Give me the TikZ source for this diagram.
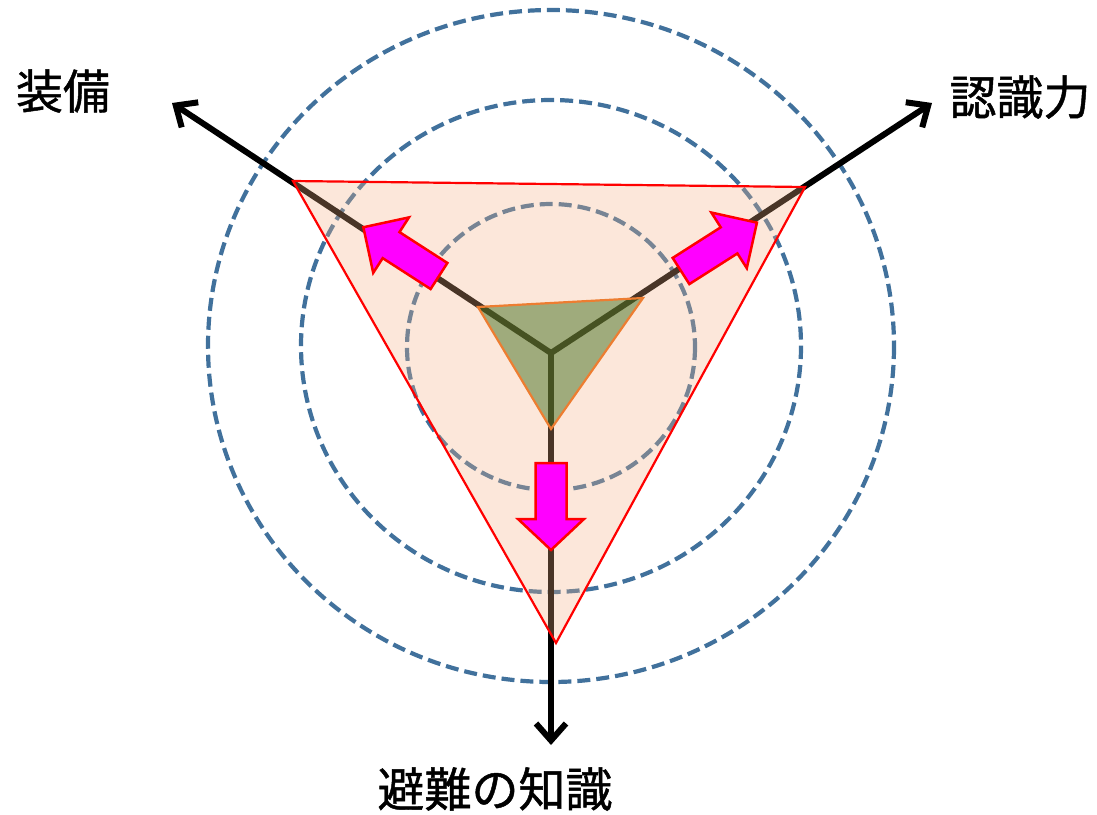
\documentclass[tikz,border=0pt]{standalone}
\usepackage{fontspec}
\newfontfamily\cjk[FakeBold=1]{Noto Sans CJK JP}
\usetikzlibrary{arrows.meta}
\definecolor{ringblue}{HTML}{41719C}
\definecolor{peach}{HTML}{F4B183}
\definecolor{olivefill}{HTML}{446F1E}
\definecolor{orangeline}{HTML}{ED7D31}
\definecolor{magentafill}{HTML}{FF00FF}
\begin{document}
\begin{tikzpicture}[x=1pt,y=-1pt,
  ring/.style={draw=ringblue, line width=4.2pt, dash pattern=on 13pt off 6pt},
  axisline/.style={draw=black, line width=6pt, -{Straight Barb[length=17pt,width=30pt]}},
  outertri/.style={draw=red, line width=2.2pt, fill=peach, fill opacity=0.3, line join=miter},
  innertri/.style={draw=orangeline, line width=2.2pt, fill=olivefill, fill opacity=0.5},
  blockarrow/.style={draw=red, line width=2.5pt, fill=magentafill, line join=miter},
  lbl/.style={font=\cjk\fontsize{47}{52}\selectfont, inner sep=0pt}]
\useasboundingbox (0,0) rectangle (1097,814);
% rings
\draw[ring] (551,346) ellipse [x radius=343, y radius=336];
\draw[ring] (551,346) ellipse [x radius=250, y radius=246];
\draw[ring] (551,347) ellipse [x radius=144, y radius=143];
% coordinates
\coordinate (O) at (551,353);
\coordinate (A) at (172,103);
\coordinate (B) at (932,103);
\coordinate (C) at (551,745);
\coordinate (T1) at (293,181);
\coordinate (T2) at (805,187);
\coordinate (T3) at (556,643);
\coordinate (I1) at (478,307);
\coordinate (I2) at (643,298);
\coordinate (I3) at (551,429);
% axes
\draw[axisline] (O) -- (A);
\draw[axisline] (O) -- (B);
\draw[axisline] (O) -- (C);
% triangles
\draw[outertri] (T1) -- (T2) -- (T3) -- cycle;
\draw[innertri] (I1) -- (I2) -- (I3) -- cycle;
% block arrows
\begin{scope}[shift={(439,276)}, rotate=147.2]
\draw[blockarrow] (0,-15.5) -- (57,-15.5) -- (57,-33) -- (90,0) -- (57,33) -- (57,15.5) -- (0,15.5) -- cycle;
\end{scope}
\begin{scope}[shift={(681,271)}, rotate=32.5]
\draw[blockarrow] (0,-15.5) -- (57,-15.5) -- (57,-33) -- (90,0) -- (57,33) -- (57,15.5) -- (0,15.5) -- cycle;
\end{scope}
\begin{scope}[shift={(551,463)}, rotate=-90]
\draw[blockarrow] (0,-15.5) -- (56,-15.5) -- (56,-33) -- (87,0) -- (56,33) -- (56,15.5) -- (0,15.5) -- cycle;
\end{scope}
% labels
\node[lbl] (lA) at (63,91) {装備};
\node[lbl] (lB) at (1020,97) {認識力};
\node[lbl] (lC) at (495,789) {避難の知識};
\end{tikzpicture}
\end{document}
